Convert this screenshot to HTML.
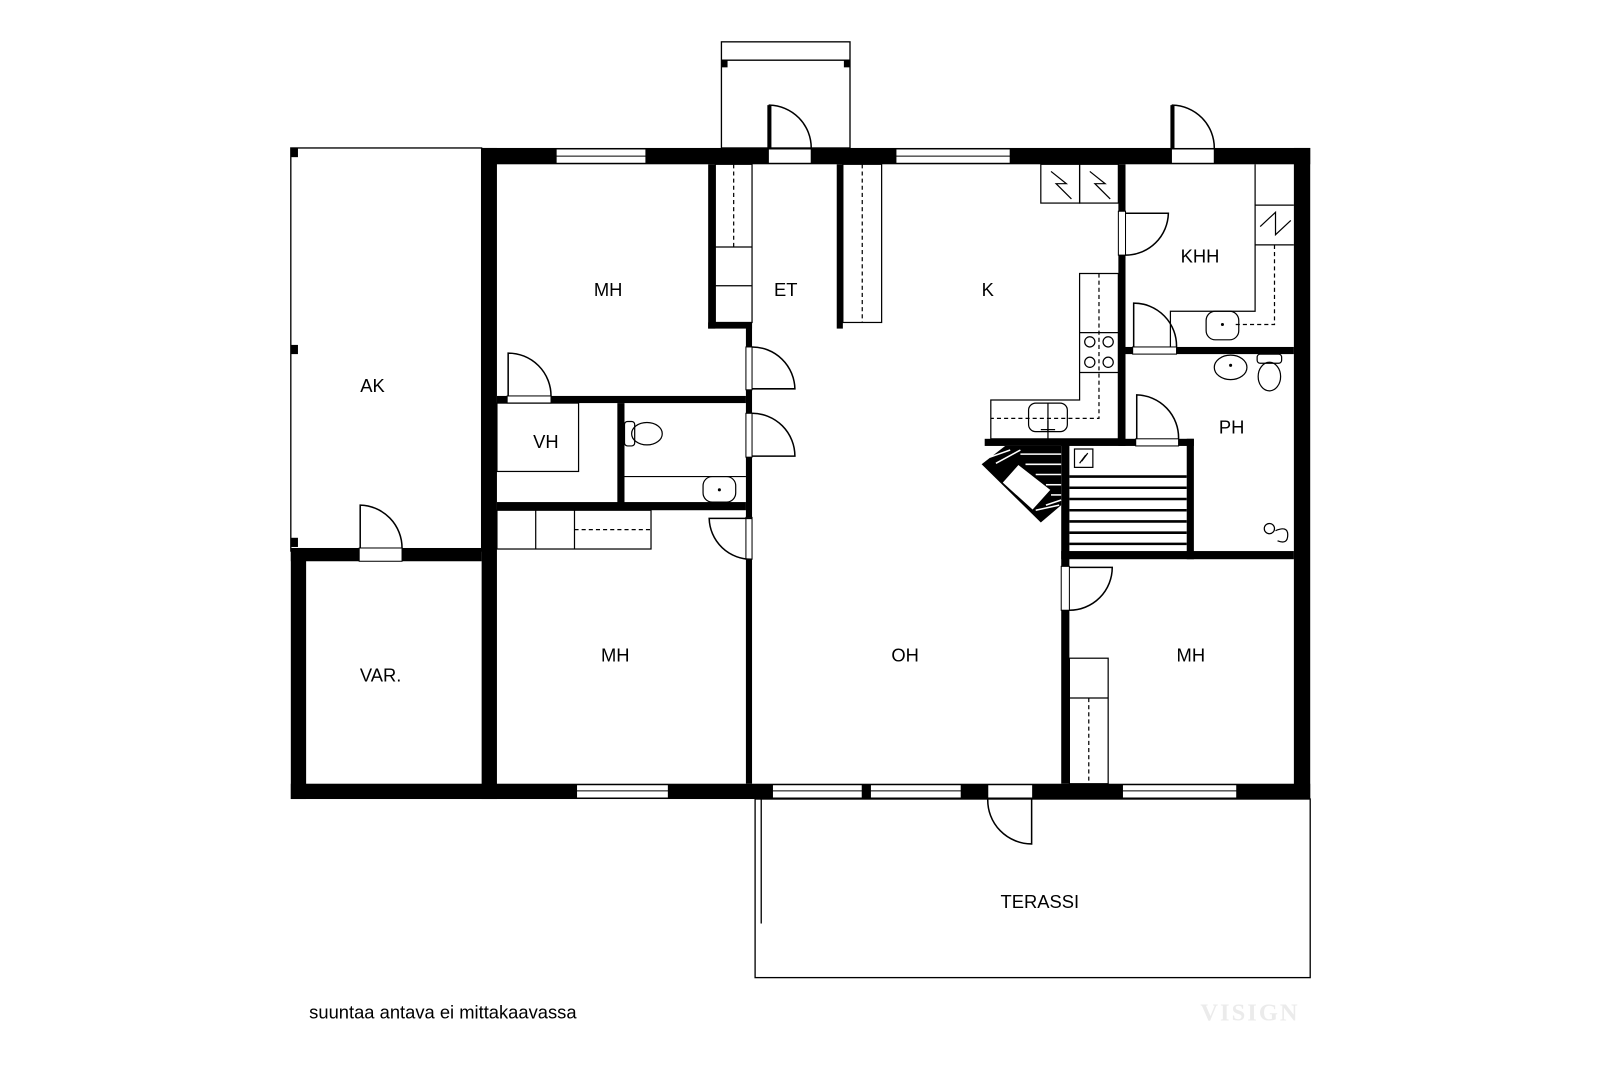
<!DOCTYPE html>
<html><head><meta charset="utf-8"><style>
html,body{margin:0;padding:0;background:#fff}
svg{display:block}
text{font-family:"Liberation Sans",sans-serif;fill:#000}
</style></head><body>
<svg width="1600" height="1067" viewBox="0 0 1568 1045.6" preserveAspectRatio="none" xmlns="http://www.w3.org/2000/svg">
<g fill="none" stroke="#000" stroke-width="1.3">
<rect x="707" y="41" width="126" height="104"/>
<line x1="707" y1="59" x2="833" y2="59"/>
<rect x="740" y="783" width="544" height="175"/>
<line x1="746" y1="783" x2="746" y2="905"/>
<rect x="285" y="145" width="187" height="395"/>
</g>
<g fill="#000">
<rect x="707" y="59" width="6" height="7"/><rect x="827" y="59" width="6" height="7"/>
<rect x="285" y="145" width="7" height="9"/><rect x="285" y="338" width="7" height="9"/><rect x="285" y="527" width="7" height="9"/>
<rect x="472" y="145" width="812" height="16"/>
<rect x="472" y="145" width="15" height="638"/>
<rect x="1268" y="145" width="16" height="638"/>
<rect x="285" y="768" width="999" height="15"/>
<rect x="285" y="537" width="187" height="13"/>
<rect x="285" y="537" width="15" height="246"/>
<rect x="694" y="161" width="7" height="161"/>
<rect x="694" y="316" width="43" height="6"/>
<rect x="731" y="316" width="6" height="452"/>
<rect x="820" y="161" width="6" height="161"/>
<rect x="487" y="388" width="244" height="7"/>
<rect x="605" y="395" width="7" height="98"/>
<rect x="487" y="492" width="244" height="8"/>
<rect x="1096" y="161" width="7" height="276"/>
<rect x="1103" y="340" width="165" height="7"/>
<rect x="965" y="430" width="205" height="7"/>
<rect x="1040" y="430" width="8" height="338"/>
<rect x="1163" y="430" width="7" height="118"/>
<rect x="1040" y="540" width="228" height="8"/>
</g>
<g fill="#fff" stroke="#000" stroke-width="1">
<rect x="545" y="146" width="88" height="14"/>
<rect x="878" y="146" width="112" height="14"/>
<rect x="753" y="146" width="42" height="14"/>
<rect x="1148" y="146" width="42" height="14"/>
<rect x="565" y="769" width="90" height="13"/>
<rect x="757" y="769" width="88" height="13"/>
<rect x="853" y="769" width="89" height="13"/>
<rect x="968" y="769" width="44" height="13"/>
<rect x="1100" y="769" width="112" height="13"/>
<rect x="497" y="388" width="43" height="7"/>
<rect x="731" y="340" width="6" height="42"/>
<rect x="731" y="405" width="6" height="43"/>
<rect x="731" y="507" width="6" height="41"/>
<rect x="352" y="537" width="42" height="13"/>
<rect x="1096" y="207" width="7" height="43"/>
<rect x="1110" y="340" width="43" height="7"/>
<rect x="1113" y="430" width="42" height="7"/>
<rect x="1040" y="555" width="8" height="43"/>
</g>
<g stroke="#000" stroke-width="1" fill="none">
<line x1="545" y1="153" x2="633" y2="153"/><line x1="878" y1="153" x2="990" y2="153"/>
<line x1="565" y1="775" x2="655" y2="775"/><line x1="757" y1="775" x2="845" y2="775"/>
<line x1="853" y1="775" x2="942" y2="775"/><line x1="1100" y1="775" x2="1212" y2="775"/>
</g>
<g stroke="#000" stroke-width="1.5" fill="none">
<path d="M754 145 V103 A42 42 0 0 1 795 145"/>
<path d="M1149 145 V103 A42 42 0 0 1 1190 145"/>
<path d="M498 388 V346 A42 42 0 0 1 540 388"/>
<path d="M737 381 H779 A42 42 0 0 0 737 340"/>
<path d="M737 447 H779 A42 42 0 0 0 737 405"/>
<path d="M737 508 H695 A41 41 0 0 0 737 548"/>
<path d="M353 537 V495 A42 42 0 0 1 394 537"/>
<path d="M1103 209 H1145 A42 42 0 0 1 1103 250"/>
<path d="M1111 340 V297 A42 42 0 0 1 1153 340"/>
<path d="M1114 430 V387 A42 42 0 0 1 1155 430"/>
<path d="M1048 556 H1090 A42 42 0 0 1 1048 598"/>
<path d="M1011 783 V827 A43 43 0 0 1 968 783"/>
</g>
<g stroke="#000" stroke-width="4">
<line x1="754" y1="103" x2="754" y2="145"/><line x1="1149" y1="103" x2="1149" y2="145"/>
</g>
<g stroke="#000" stroke-width="1.2" fill="none">
<rect x="701" y="161" width="36" height="155"/>
<line x1="701" y1="242" x2="737" y2="242"/><line x1="701" y1="280" x2="737" y2="280"/>
<line x1="719" y1="161" x2="719" y2="242" stroke-dasharray="4 3"/>
<rect x="826" y="161" width="38" height="155"/>
<line x1="845" y1="161" x2="845" y2="316" stroke-dasharray="4 3"/>
<rect x="1020" y="161" width="38" height="38"/><rect x="1058" y="161" width="38" height="38"/>
<path d="M1030 168 L1045 180 L1035 180 L1050 195"/><path d="M1068 168 L1083 180 L1073 180 L1088 195"/>
<path d="M1058 268 H1096 V430 H971 V392 H1058 Z"/>
<line x1="1058" y1="326" x2="1096" y2="326"/><line x1="1058" y1="365" x2="1096" y2="365"/>
<circle cx="1068" cy="335" r="5"/><circle cx="1086" cy="335" r="5"/><circle cx="1068" cy="355" r="5"/><circle cx="1086" cy="355" r="5"/>
<path d="M1077 268 V410 H971" stroke-dasharray="4 3"/>
<rect x="1008" y="395" width="38" height="28" rx="7"/>
<line x1="1027" y1="395" x2="1027" y2="423"/>
<line x1="1027" y1="412" x2="1027" y2="430"/><line x1="1020" y1="421" x2="1034" y2="421"/>
<path d="M1230 161 V305 H1147 V340"/>
<line x1="1230" y1="201" x2="1268" y2="201"/><line x1="1230" y1="240" x2="1268" y2="240"/>
<path d="M1235 222 L1250 208 L1250 230 L1265 216"/>
<path d="M1249 240 V318 H1210" stroke-dasharray="4 3"/>
<rect x="1182" y="305" width="32" height="28" rx="9"/>
<ellipse cx="1206" cy="360" rx="16" ry="12"/>
<rect x="1232" y="347" width="24" height="9" rx="3"/><ellipse cx="1244" cy="369" rx="11" ry="14"/>
<circle cx="1244" cy="518" r="5"/><path d="M1250 520 Q1262 515 1262 524 Q1262 534 1252 530"/>
<rect x="487" y="395" width="80" height="67"/>
<ellipse cx="634" cy="425" rx="15" ry="11"/><rect x="612" y="413" width="10" height="24" rx="3"/>
<line x1="612" y1="467" x2="731" y2="467"/>
<rect x="689" y="467" width="32" height="25" rx="9"/>
<rect x="487" y="500" width="151" height="38"/>
<line x1="525" y1="500" x2="525" y2="538"/><line x1="563" y1="500" x2="563" y2="538"/>
<line x1="563" y1="519" x2="638" y2="519" stroke-dasharray="4 3"/>
<rect x="1048" y="645" width="38" height="123"/>
<line x1="1048" y1="684" x2="1086" y2="684"/>
<line x1="1067" y1="684" x2="1067" y2="768" stroke-dasharray="4 3"/>
<rect x="1053" y="440" width="18" height="18"/><path d="M1058 454 L1064 446 L1060 452 L1066 444"/>
</g>
<g fill="#000"><circle cx="1206" cy="358" r="1.5"/><circle cx="705" cy="480" r="1.5"/><circle cx="1198" cy="318" r="1.5"/></g>
<g stroke="#000" stroke-width="2.5">
<line x1="1048" y1="467" x2="1163" y2="467"/><line x1="1048" y1="478" x2="1163" y2="478"/>
<line x1="1048" y1="489" x2="1163" y2="489"/><line x1="1048" y1="500" x2="1163" y2="500"/>
<line x1="1048" y1="511" x2="1163" y2="511"/><line x1="1048" y1="522" x2="1163" y2="522"/>
<line x1="1048" y1="533" x2="1163" y2="533"/>
</g>
<g>
<polygon points="985,437 1040,437 1040,495 1020,512 962,455" fill="#000"/>
<polygon points="998,455 1030,480 1012,500 982,473" fill="#fff" stroke="#000"/>
<g stroke="#fff" stroke-width="1.5">
<line x1="970" y1="448" x2="990" y2="441"/><line x1="976" y1="454" x2="1000" y2="441"/>
<line x1="1000" y1="445" x2="1040" y2="445"/><line x1="1005" y1="455" x2="1040" y2="455"/>
<line x1="1015" y1="465" x2="1040" y2="465"/><line x1="1025" y1="475" x2="1040" y2="475"/>
<line x1="1030" y1="485" x2="1040" y2="485"/><line x1="1025" y1="495" x2="1040" y2="490"/>
<line x1="1015" y1="500" x2="1038" y2="495"/>
</g>
</g>
<g font-size="18" text-anchor="middle">
<text x="596" y="290">MH</text>
<text x="770" y="290">ET</text>
<text x="968" y="290">K</text>
<text x="1176" y="257">KHH</text>
<text x="365" y="384">AK</text>
<text x="535" y="439">VH</text>
<text x="1207" y="425">PH</text>
<text x="373" y="668">VAR.</text>
<text x="603" y="648">MH</text>
<text x="887" y="648">OH</text>
<text x="1167" y="648">MH</text>
<text x="1019" y="890">TERASSI</text>
</g>
<text x="303" y="998" font-size="18">suuntaa antava ei mittakaavassa</text>
<text x="1225" y="1000" font-size="24" font-weight="bold" text-anchor="middle" letter-spacing="2" style="fill:#ebebeb;font-family:'Liberation Serif',serif">VISIGN</text>
</svg>
</body></html>
